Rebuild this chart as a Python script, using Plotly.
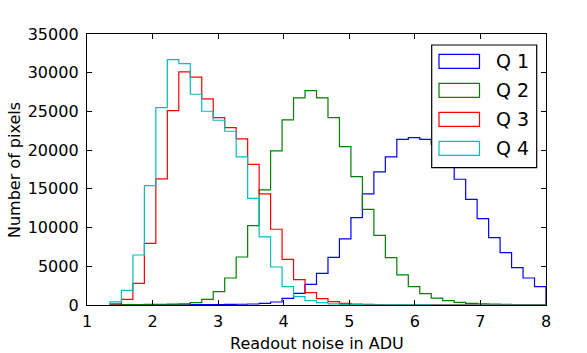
import plotly.graph_objects as go

# Histogram bins (ADU)
BIN_START = 1.35
BIN_WIDTH = 0.175
N_BINS = 38

series_names = ["Q 1", "Q 2", "Q 3", "Q 4"]
series_colors = ["#0000ff", "#008000", "#ff0000", "#00bfbf"]

q1_counts = [0, 0, 10, 10, 20, 20, 30, 40, 50, 60, 80, 100, 130, 200, 390, 860,
             1500, 2670, 4090, 6160, 8530, 11280, 14340, 17190, 19120, 21400, 21620,
             21400, 20700, 18800, 16240, 13650, 11160, 8700, 6760, 4820, 3490, 2370]
q2_counts = [30, 50, 60, 80, 100, 120, 150, 300, 730, 1720, 3490, 6200, 10250, 14860,
             19900, 23900, 26750, 27690, 26750, 24200, 20460, 16580, 12360, 9000, 6120,
             3880, 2370, 1460, 900, 560, 340, 220, 150, 110, 80, 60, 50, 40]
q3_counts = [150, 730, 2800, 7970, 16280, 25110, 30100, 29420, 26620, 24200, 22910,
             21450, 18170, 14340, 9780, 5900, 3270, 1590, 820, 430, 220, 120, 70, 40,
             30, 20, 15, 10, 10, 5, 5, 5, 0, 0, 0, 0, 0, 0]
q4_counts = [400, 1900, 6460, 15420, 25500, 31700, 31180, 27220, 25020, 23860, 22440,
             19120, 13780, 8790, 4910, 2370, 1080, 560, 300, 150, 80, 50, 30, 20, 10,
             10, 5, 5, 0, 0, 0, 0, 0, 0, 0, 0, 0, 0]

x_ticks = [1, 2, 3, 4, 5, 6, 7, 8]
y_ticks = [0, 5000, 10000, 15000, 20000, 25000, 30000, 35000]

edges = [BIN_START + BIN_WIDTH * k for k in range(N_BINS + 1)]

fig = go.Figure()
for name, color, counts in zip(series_names, series_colors,
                               [q1_counts, q2_counts, q3_counts, q4_counts]):
    xs = [edges[0]] + edges + [edges[-1]]
    ys = [0] + list(counts) + [counts[-1], 0]
    fig.add_trace(go.Scatter(x=xs, y=ys, mode="lines", line_shape="hv",
                             line=dict(color=color, width=1.2), name=name,
                             showlegend=False, hoverinfo="skip"))

FONT = "DejaVu Sans"
W, H = 587, 353
L, R, T, B = 87, 41, 34, 48
PW, PH = W - L - R, H - T - B

def px(x):
    return (x - L) / PW

def py(y):
    return (H - B - y) / PH

shapes = []
annotations = []
# legend box
shapes.append(dict(type="rect", xref="paper", yref="paper",
                   x0=px(431.7), x1=px(536.7), y0=py(167.7), y1=py(45),
                   line=dict(color="black", width=1.2), fillcolor="white", layer="above"))
for i, (name, color) in enumerate(zip(series_names, series_colors)):
    cy = 61.3 + 29 * i
    shapes.append(dict(type="rect", xref="paper", yref="paper",
                       x0=px(439), x1=px(479.5), y0=py(cy + 7), y1=py(cy - 7),
                       line=dict(color=color, width=1.2), fillcolor="white", layer="above"))
    annotations.append(dict(text=name, xref="paper", yref="paper", x=px(494), y=py(cy),
                            xanchor="left", yanchor="middle", showarrow=False,
                            font=dict(family=FONT, size=19, color="black")))

annotations.append(dict(text="Readout noise in ADU", xref="paper", yref="paper",
                        x=px(316.5), y=py(343.5), xanchor="center", yanchor="middle",
                        showarrow=False, font=dict(family=FONT, size=16, color="black")))
annotations.append(dict(text="Number of pixels", xref="paper", yref="paper",
                        x=px(14), y=py(170), xanchor="center", yanchor="middle",
                        textangle=-90, showarrow=False,
                        font=dict(family=FONT, size=16, color="black")))

axis_common = dict(showgrid=False, zeroline=False, showline=True, linecolor="black",
                   linewidth=1.2, mirror="allticks", ticks="inside", ticklen=5,
                   tickcolor="black", tickwidth=1,
                   tickfont=dict(family=FONT, size=16, color="black"))

fig.update_layout(
    width=W, height=H,
    margin=dict(l=L, r=R, t=T, b=B, pad=0),
    paper_bgcolor="white", plot_bgcolor="white",
    xaxis=dict(range=[1, 8], tickvals=x_ticks, ticktext=[str(v) for v in x_ticks],
               ticklabelstandoff=2, **axis_common),
    yaxis=dict(range=[0, 35000], tickvals=y_ticks, ticktext=[str(v) for v in y_ticks],
               ticklabelstandoff=4, **axis_common),
    shapes=shapes, annotations=annotations, showlegend=False,
)

fig.write_html("out.html", config={"displayModeBar": False, "staticPlot": True},
               post_script="document.body.style.margin='0';document.body.style.padding='0';")
